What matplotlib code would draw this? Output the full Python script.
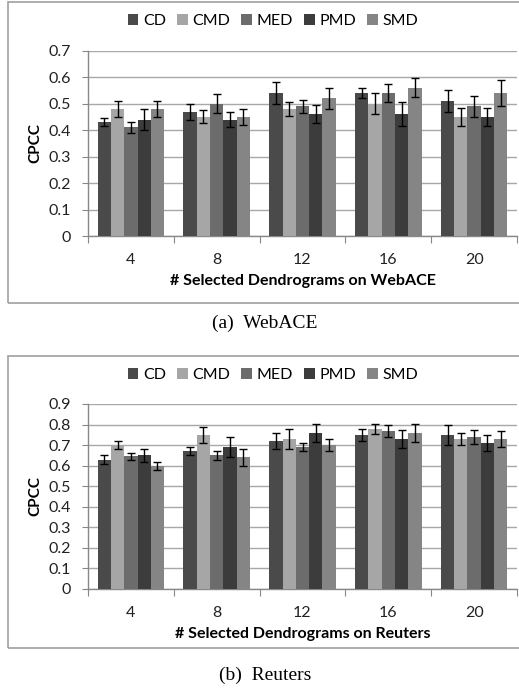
import matplotlib
matplotlib.use("Agg")
import matplotlib.pyplot as plt
import numpy as np
from matplotlib.patches import Rectangle

categories = ["4", "8", "12", "16", "20"]
series = ["CD", "CMD", "MED", "PMD", "SMD"]
colors = ["#4a4a4a", "#a6a6a6", "#6c6c6c", "#3c3c3c", "#858585"]

webace_vals = {
    "CD":  [0.43, 0.47, 0.54, 0.54, 0.51],
    "CMD": [0.48, 0.45, 0.48, 0.50, 0.45],
    "MED": [0.41, 0.50, 0.49, 0.54, 0.49],
    "PMD": [0.44, 0.44, 0.46, 0.46, 0.45],
    "SMD": [0.48, 0.45, 0.52, 0.56, 0.54],
}
webace_err = {
    "CD":  [0.015, 0.03, 0.04, 0.02, 0.04],
    "CMD": [0.03, 0.025, 0.025, 0.04, 0.035],
    "MED": [0.02, 0.035, 0.025, 0.035, 0.04],
    "PMD": [0.04, 0.03, 0.035, 0.045, 0.035],
    "SMD": [0.03, 0.03, 0.04, 0.035, 0.05],
}
reuters_vals = {
    "CD":  [0.63, 0.67, 0.72, 0.75, 0.75],
    "CMD": [0.70, 0.75, 0.73, 0.78, 0.73],
    "MED": [0.645, 0.65, 0.69, 0.77, 0.74],
    "PMD": [0.65, 0.69, 0.76, 0.73, 0.71],
    "SMD": [0.60, 0.64, 0.70, 0.76, 0.73],
}
reuters_err = {
    "CD":  [0.02, 0.02, 0.04, 0.03, 0.05],
    "CMD": [0.02, 0.04, 0.05, 0.025, 0.03],
    "MED": [0.015, 0.02, 0.02, 0.03, 0.035],
    "PMD": [0.03, 0.05, 0.045, 0.045, 0.04],
    "SMD": [0.02, 0.04, 0.03, 0.045, 0.04],
}

FONT = ["Lato", "DejaVu Sans"]
W, H = 519, 696
fig = plt.figure(figsize=(W / 100, H / 100), dpi=100)

def fx(px):
    return px / W

def fy(py):
    return 1 - py / H

def draw_panel(vals, errs, ymax, ax_top_px, ax_bot_px, legend_y_px, xlabel, box, caption, caption_y):
    ax = fig.add_axes([fx(88), fy(ax_bot_px), fx(517) - fx(88), fy(ax_top_px) - fy(ax_bot_px)])
    n = len(series)
    x = np.arange(len(categories))
    bw = 0.155
    for i, s in enumerate(series):
        pos = x + (i - (n - 1) / 2) * bw
        ax.bar(pos, vals[s], width=bw, color=colors[i], label=s, zorder=3,
               yerr=errs[s], error_kw=dict(ecolor="black", elinewidth=1.0, capsize=3, capthick=1.0, zorder=4))
    ax.set_xlim(-0.5, len(categories) - 0.5)
    ax.set_ylim(0, ymax)
    ticks = np.round(np.arange(0, ymax + 0.001, 0.1), 1)
    ax.set_yticks(ticks)
    ax.set_yticklabels([("0" if v == 0 else f"{v:.1f}") for v in ticks],
                       fontsize=11.5, family=FONT, color="#222222")
    ax.yaxis.grid(True, color="#a8a8a8", linewidth=1.0, zorder=0)
    ax.set_axisbelow(True)
    ax.set_xticks(np.arange(-0.5, len(categories), 1.0))
    ax.set_xticklabels([])
    ax.set_xticks(x, minor=True)
    ax.set_xticklabels(categories, minor=True, fontsize=11.5, family=FONT, color="#222222")
    ax.tick_params(axis="x", which="major", length=5, color="#888888", direction="out")
    ax.tick_params(axis="x", which="minor", length=0, pad=12)
    ax.tick_params(axis="y", length=4, color="#888888", pad=8)
    for sp in ["top", "right"]:
        ax.spines[sp].set_visible(False)
    for sp in ["left", "bottom"]:
        ax.spines[sp].set_color("#888888")
        ax.spines[sp].set_linewidth(1.0)
    ax.set_ylabel("CPCC", fontsize=11, family=FONT, fontweight="bold", labelpad=5)
    ax.set_xlabel(xlabel, fontsize=11.5, family=FONT, fontweight="bold", labelpad=5)
    handles, labels = ax.get_legend_handles_labels()
    fig.legend(handles, labels, loc="center", bbox_to_anchor=(fx(273), fy(legend_y_px)), ncol=5,
               frameon=False, prop=dict(family=FONT, size=11.5), handlelength=0.65, handleheight=0.65,
               handletextpad=0.3, columnspacing=0.7)
    x0, y0, y1 = box
    fig.patches.append(Rectangle((fx(x0), fy(y1)), 1.2, fy(y0) - fy(y1), transform=fig.transFigure,
                                 fill=False, edgecolor="#a0a0a0", linewidth=1.2))
    fig.text(fx(265), fy(caption_y), caption, ha="center", va="center", fontsize=14,
             family=["Liberation Serif", "DejaVu Serif"])
    return ax

draw_panel(webace_vals, webace_err, 0.7, 50.7, 236, 21, "# Selected Dendrograms on WebACE",
           (8, 2, 303), "(a)  WebACE", 323)
draw_panel(reuters_vals, reuters_err, 0.9, 404, 589, 375, "# Selected Dendrograms on Reuters",
           (8, 356, 648), "(b)  Reuters", 675)

fig.savefig("out.png", dpi=100)
